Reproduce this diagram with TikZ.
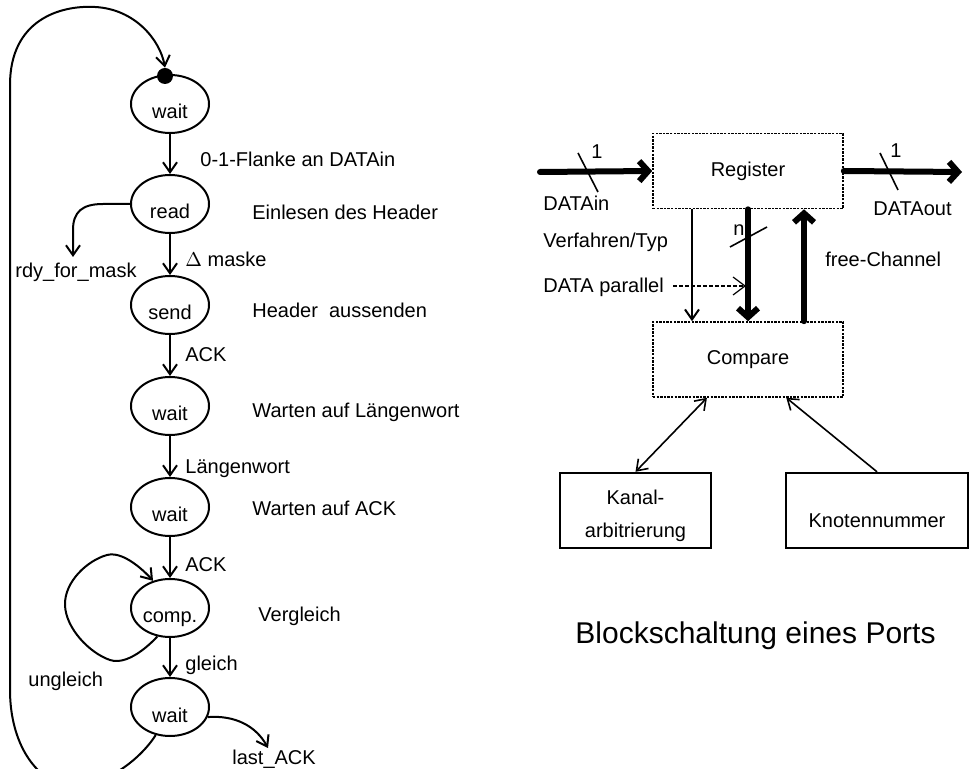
\documentclass[tikz,border=0pt]{standalone}
\usepackage{fontspec}
\setmainfont{Liberation Sans}
\usetikzlibrary{shapes.geometric,arrows.meta}

\tikzset{
  zustand/.style={ellipse, draw, line width=1pt, minimum width=39pt, minimum height=29pt,
    inner sep=0pt, text height=17pt, text depth=2pt},
  pfeil/.style={line width=1pt, -{Straight Barb[length=5pt,width=7pt]}},
  bus/.style={line width=3pt, line cap=round, -{Straight Barb[length=4.5pt,width=10pt]}},
  block/.style={draw, line width=0.8pt, dash pattern=on 1.2pt off 0.6pt,
    minimum width=95pt, minimum height=37.5pt},
  kasten/.style={draw, line width=1.2pt, minimum height=37.5pt, align=center},
}

\begin{document}
\begin{tikzpicture}[x=0.5pt, y=-0.5pt, every node/.style={font=\fontsize{10}{12}\selectfont}]
\useasboundingbox (0,0) rectangle (969,769);
% Zustandsfolge (links)
\foreach \n/\y/\t in {wait1/104/wait, read/204/read, send/305/send, wait2/406/wait,
                      wait3/507/wait, comp/608/comp., wait4/707/wait}
  {\node[zustand] (\n) at (170,\y) {\t};}
\node[circle, fill, inner sep=0pt, minimum size=8pt] (start) at (165,76) {};
\foreach \a/\b in {wait1/read, read/send, send/wait2, wait2/wait3, wait3/comp, comp/wait4}
  {\draw[pfeil] (\a) -- (\b);}
% Beschriftungen
\foreach \x/\y/\t [count=\i] in {200/167/0-1-Flanke an DATAin, 252/220/Einlesen des Header,
    185/267/{$\Delta$ maske}, 15/278/rdy\_for\_mask, 252/318/{Header~ aussenden},
    185/362/ACK, 252/418/Warten auf Längenwort, 185/474/Längenwort,
    252/516/Warten auf ACK, 185/572/ACK, 258/622/Vergleich, 185/670/gleich,
    28/686/ungleich, 232/764/last\_ACK}
  {\node[anchor=base west, inner sep=0pt] (lab\i) at (\x,\y) {\t};}
% Nebenpfade
\coordinate (rdyend) at (73,257);
\coordinate (lastend) at (268,748);
\draw[pfeil] (read.west) -- (103,204) .. controls (82,204) and (73,212) .. (73,230) -- (rdyend);
\draw[pfeil] plot[smooth, tension=0.8] coordinates {(comp.246) (110,660) (65,605) (107,555) (comp.122)};
\draw[pfeil] (wait4.-15) .. controls (235,715) and (256,726) .. (lastend);
\draw[pfeil] (wait4.243) .. controls (140,760) and (100,792) .. (60,785)
  .. controls (25,770) and (10,730) .. (10,690) -- (10,85)
  .. controls (10,20) and (60,5) .. (95,7) .. controls (135,9) and (160,40) .. (start.north);
% Blockschaltung (rechts)
\node[block] (register) at (748,171) {Register};
\node[block] (compare) at (748,359.5) {Compare};
\node[kasten, minimum width=75.5pt] (kanal) at (635.5,510.5) {};
\node[align=center, font=\fontsize{10}{16.5}\selectfont] (kanaltext) at (635.5,516) {Kanal-\\arbitrierung};
\node[kasten, minimum width=91pt, text height=19pt, text depth=2pt] (knoten) at (877,510.5) {Knotennummer};
\coordinate (din) at (540,172);
\coordinate (dout) at (962,172);
\coordinate (vt) at (692,0);
\coordinate (fc) at (804,0);
\coordinate (dpar) at (673,286);
\coordinate (dpe) at (746,286);
\draw[bus] (din) -- (register.west);
\draw[bus] (register.east) -- (dout);
\draw[bus] (register.south) -- (compare.north);
\draw[bus] (fc |- compare.north) -- (fc |- register.south);
\draw[pfeil] (vt |- register.south) -- (vt |- compare.north);
\draw[line width=0.6pt, dash pattern=on 2pt off 1pt, -{Straight Barb[length=6pt,width=9pt,line width=0.6pt]}] (dpar) -- (dpe);
\draw[line width=0.8pt, {Straight Barb[length=5pt,width=7pt]}-{Straight Barb[length=5pt,width=7pt]}] (kanal.north) -- (compare.223);
\draw[line width=0.8pt, -{Straight Barb[length=5pt,width=7pt]}] (knoten.north) -- (compare.315);
% Bündelstriche
\draw[line width=0.8pt] (578,153) -- (598,192);
\draw[line width=0.8pt] (880,153) -- (898,190);
\draw[line width=0.8pt] (730,247) -- (767,227);
\foreach \x/\y/\t [count=\i] in {591/159/1, 890/158/1, 733/236/n, 543/211/DATAin,
    873/216/DATAout, 543/248/{Verfahren/Typ}, 543/293/DATA parallel, 825/267/free-Channel}
  {\node[anchor=base west, inner sep=0pt] (txt\i) at (\x,\y) {\t};}
\node[anchor=base west, inner sep=0pt, font=\fontsize{15}{18}\selectfont] (titel) at (575,643) {Blockschaltung eines Ports};
\end{tikzpicture}
\end{document}
